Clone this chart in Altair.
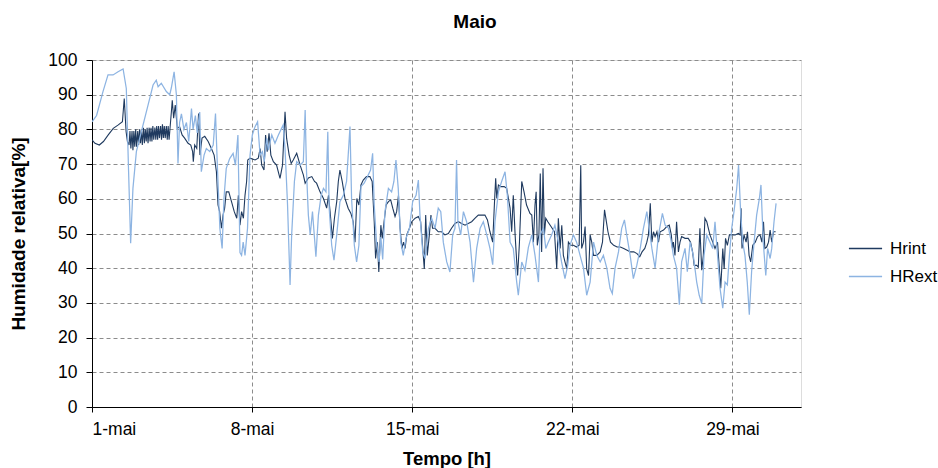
import altair as alt
import pandas as pd

# ---- data (days since 1-mai 00:00, relative humidity %) ----
hrint_dia = [0.00, 0.13, 0.32, 0.50, 0.71, 0.93, 1.15, 1.33, 1.41, 1.49, 1.55,
             1.62, 1.66, 1.70, 1.75, 1.79, 1.83, 1.87, 1.91, 1.95, 2.00, 2.04, 2.08, 2.12, 2.16,
             2.20, 2.25, 2.29, 2.33, 2.37, 2.41, 2.45, 2.50, 2.54, 2.58, 2.62, 2.66, 2.70, 2.75,
             2.79, 2.83, 2.87, 2.91, 2.95, 3.00, 3.04, 3.08, 3.12, 3.16, 3.20, 3.25, 3.29, 3.33, 3.37,
             3.40, 3.47, 3.51, 3.57, 3.64, 3.73, 3.83, 3.94, 4.05, 4.20, 4.32, 4.40, 4.43, 4.49,
             4.58, 4.66, 4.72, 4.81, 4.93, 5.08, 5.22, 5.34, 5.44, 5.51, 5.58, 5.66, 5.73, 5.80,
             5.87, 5.98, 6.10, 6.22, 6.33, 6.40, 6.47, 6.54, 6.62, 6.69, 6.76, 6.81, 6.91, 7.13,
             7.27, 7.35, 7.42, 7.52, 7.59, 7.66, 7.74, 7.82, 7.93, 8.07, 8.22, 8.33, 8.44, 8.51,
             8.62, 8.71, 8.80, 8.95, 9.10, 9.24, 9.32, 9.46, 9.61, 9.73, 9.82, 9.97, 10.12, 10.26,
             10.34, 10.41, 10.51, 10.60, 10.70, 10.77, 10.84, 10.94, 11.06, 11.20, 11.32, 11.42,
             11.50, 11.58, 11.67, 11.76, 11.86, 12.00, 12.15, 12.25, 12.34, 12.40, 12.48, 12.54,
             12.63, 12.69, 12.77, 12.86, 12.96, 13.06, 13.15, 13.25, 13.32, 13.40, 13.47, 13.55,
             13.62, 13.69, 13.76, 13.88, 13.98, 14.13, 14.27, 14.37, 14.44, 14.53, 14.59, 14.66,
             14.75, 14.82, 14.89, 15.00, 15.14, 15.29, 15.43, 15.58, 15.72, 15.87, 16.02, 16.16,
             16.31, 16.45, 16.60, 16.75, 16.89, 17.04, 17.18, 17.29, 17.40, 17.52, 17.60, 17.65,
             17.70, 17.77, 17.87, 18.02, 18.13, 18.28, 18.35, 18.42, 18.50, 18.57, 18.61, 18.69,
             18.79, 18.89, 19.00, 19.15, 19.23, 19.30, 19.37, 19.42, 19.47, 19.54, 19.60, 19.66,
             19.72, 19.78, 19.84, 19.93, 20.07, 20.22, 20.32, 20.39, 20.47, 20.54, 20.61, 20.68,
             20.76, 20.83, 20.93, 21.05, 21.19, 21.30, 21.37, 21.41, 21.49, 21.56, 21.63, 21.71,
             21.78, 21.85, 21.93, 22.07, 22.22, 22.32, 22.41, 22.49, 22.56, 22.67, 22.81, 22.96,
             23.10, 23.25, 23.40, 23.54, 23.69, 23.83, 23.95, 24.05, 24.17, 24.26, 24.33, 24.41,
             24.48, 24.55, 24.62, 24.70, 24.77, 24.84, 24.99, 25.13, 25.24, 25.33, 25.38, 25.42,
             25.49, 25.56, 25.64, 25.71, 25.78, 25.93, 26.07, 26.17, 26.26, 26.33, 26.44, 26.51,
             26.58, 26.66, 26.73, 26.80, 26.88, 26.95, 27.02, 27.14, 27.24, 27.35, 27.43, 27.49,
             27.58, 27.64, 27.70, 27.78, 27.87, 27.97, 28.12, 28.26, 28.34, 28.38, 28.42, 28.51,
             28.60, 28.66, 28.73, 28.80, 28.89, 29.00, 29.10, 29.21, 29.29, 29.36, 29.42, 29.50,
             29.58, 29.65, 29.72, 29.80, 29.89]
hrint_val = [77.0, 76.0, 75.5, 76.5, 78.4, 80.3, 81.3, 82.2, 88.9, 79.4, 76.5,
             75.5, 79.5, 74.5, 79.5, 74.0, 79.5, 75.0, 80.0, 75.0, 79.5, 75.5, 80.0, 76.0, 80.0,
             75.5, 80.5, 76.0, 80.0, 76.5, 80.5, 76.0, 80.5, 76.5, 80.5, 76.5, 81.0, 77.0, 80.5,
             77.0, 81.0, 77.0, 81.0, 77.5, 81.0, 77.0, 81.5, 77.5, 81.0, 77.5, 81.0, 77.0, 81.0, 77.0,
             79.4, 85.0, 88.4, 83.2, 87.0, 80.3, 80.8, 78.4, 77.5, 76.0, 75.5, 73.6, 70.7, 75.5,
             74.5, 84.6, 72.6, 77.5, 78.0, 76.5, 74.5, 72.6, 67.8, 58.2, 56.3, 51.5, 55.3, 57.3,
             62.0, 62.0, 59.2, 56.3, 54.4, 61.0, 52.4, 56.3, 54.4, 61.0, 65.0, 71.2, 71.7, 71.2,
             71.7, 74.5, 69.7, 68.3, 78.4, 73.6, 78.9, 72.6, 70.7, 69.7, 65.9, 69.7, 85.1, 77.4,
             72.6, 70.2, 71.2, 73.1, 69.7, 66.9, 64.5, 66.0, 66.4, 65.0, 64.5, 62.0, 60.1, 57.3,
             61.0, 56.3, 48.6, 54.4, 59.2, 65.0, 68.3, 65.0, 60.1, 57.3, 55.8, 53.4,
             47.5, 60.1, 58.2, 64.0, 65.4, 66.4, 66.4, 65.0, 53.4, 42.8, 47.5, 38.9,
             52.4, 48.6, 53.4, 58.2, 59.2, 59.7, 57.3, 54.9, 56.3, 61.0, 51.5, 45.7,
             47.5, 45.7, 49.6, 51.5, 53.4, 54.4, 54.9, 53.4, 47.5, 39.8, 55.3, 43.7,
             49.6, 55.3, 51.5, 51.5, 50.5, 50.5, 49.6, 50.0, 51.5, 52.9, 53.4, 52.9,
             52.4, 52.9, 53.4, 54.4, 55.3, 55.3, 55.3, 53.9, 50.5, 47.5, 59.2, 65.9,
             60.1, 64.0, 63.5, 63.5, 63.0, 57.3, 50.5, 61.0, 49.6, 41.8, 37.9, 47.5,
             65.0, 62.0, 58.2, 55.8, 55.3, 47.5, 58.2, 62.0, 46.6, 49.6, 67.3, 44.7,
             68.8, 49.6, 54.4, 53.4, 52.0, 50.5, 39.8, 54.4, 45.7, 52.4, 43.7, 41.8,
             39.8, 47.5, 46.6, 46.6, 46.1, 46.6, 69.7, 45.7, 47.5, 52.0, 39.8, 37.9,
             49.6, 47.5, 43.7, 43.7, 44.7, 47.5, 56.8, 53.4, 50.5, 47.5, 46.6, 46.1,
             46.1, 45.7, 45.2, 44.7, 44.7, 44.2, 43.3, 44.7, 45.7, 47.5, 49.6, 58.7,
             47.5, 50.5, 49.1, 50.5, 47.5, 50.5, 51.0, 52.0, 52.4, 49.6, 45.7, 47.5,
             43.7, 53.4, 44.7, 47.5, 49.1, 48.6, 48.6, 47.5, 44.7, 40.8, 40.8, 40.3,
             51.5, 39.4, 43.7, 54.4, 53.4, 51.5, 49.6, 47.5, 45.7, 47.5, 39.8, 34.2,
             45.7, 39.8, 48.6, 46.6, 49.6, 49.6, 49.6, 50.0, 49.6, 57.3, 45.7, 49.6,
             47.5, 50.5, 43.7, 41.8, 46.6, 47.5, 49.1, 49.6, 47.5, 53.4, 45.7, 46.1,
             47.5, 51.0, 47.5, 50.5, 50.5]

hrext_dia = [0.00, 0.20, 0.48, 0.70, 0.92, 1.14, 1.36, 1.50, 1.60, 1.69, 1.79, 1.94, 2.16,
             2.45, 2.67, 2.81, 2.89, 3.03, 3.25, 3.40, 3.47, 3.59, 3.69, 3.76, 3.83, 3.91,
             4.02, 4.13, 4.23, 4.35, 4.42, 4.52, 4.60, 4.71, 4.78, 4.90, 5.00, 5.15, 5.30,
             5.40, 5.48, 5.59, 5.69, 5.77, 5.87, 6.02, 6.17, 6.27, 6.38, 6.47, 6.54, 6.61,
             6.69, 6.80, 6.91, 7.01, 7.13, 7.24, 7.35, 7.45, 7.53, 7.64, 7.71, 7.86, 8.00,
             8.15, 8.36, 8.44, 8.55, 8.66, 8.73, 8.85, 8.95, 9.10, 9.24, 9.32, 9.38, 9.46,
             9.54, 9.64, 9.73, 9.79, 9.90, 10.02, 10.12, 10.23, 10.31, 10.37, 10.48, 10.58,
             10.70, 10.84, 10.99, 11.13, 11.28, 11.35, 11.47, 11.57, 11.67, 11.76, 11.90,
             12.08, 12.18, 12.27, 12.34, 12.44, 12.55, 12.63, 12.71, 12.81, 12.96, 13.10,
             13.20, 13.29, 13.39, 13.50, 13.61, 13.73, 13.88, 14.02, 14.17, 14.27, 14.34,
             14.46, 14.56, 14.71, 14.85, 15.00, 15.14, 15.25, 15.36, 15.51, 15.65, 15.77,
             15.87, 15.94, 16.00, 16.12, 16.24, 16.38, 16.53, 16.68, 16.82, 16.97, 17.11,
             17.26, 17.40, 17.52, 17.62, 17.77, 17.91, 18.06, 18.16, 18.28, 18.42, 18.57,
             18.64, 18.79, 18.93, 19.08, 19.23, 19.37, 19.52, 19.59, 19.74, 19.84, 19.95,
             20.10, 20.24, 20.39, 20.53, 20.68, 20.80, 20.90, 21.05, 21.19, 21.34, 21.49,
             21.63, 21.78, 21.93, 22.07, 22.22, 22.36, 22.51, 22.65, 22.75, 22.87, 23.02,
             23.16, 23.28, 23.38, 23.53, 23.67, 23.82, 23.97, 24.11, 24.26, 24.36, 24.48,
             24.62, 24.77, 24.94, 25.06, 25.21, 25.33, 25.42, 25.56, 25.68, 25.78, 25.93,
             26.03, 26.15, 26.29, 26.44, 26.55, 26.66, 26.76, 26.88, 27.02, 27.14, 27.24,
             27.35, 27.46, 27.58, 27.68, 27.78, 27.87, 27.97, 28.07, 28.19, 28.27, 28.36,
             28.45, 28.55, 28.65, 28.74, 28.84, 28.95, 29.06, 29.18, 29.25, 29.35, 29.46,
             29.54, 29.65, 29.72, 29.82, 29.91]
hrext_val = [82.2, 84.0, 90.9, 95.7, 95.7, 96.6, 97.4, 91.8, 67.8, 47.2, 63.0, 73.6, 79.4,
             87.0, 92.8, 94.2, 92.3, 93.3, 90.9, 90.0, 92.0, 96.6, 90.0, 70.2, 82.0, 84.5,
             80.0, 82.0, 76.5, 86.0, 80.0, 84.0, 79.0, 85.0, 67.8, 72.6, 74.5, 73.6, 75.5,
             84.6, 69.7, 51.5, 45.7, 60.1, 68.8, 71.6, 73.1, 69.7, 78.4, 44.5, 43.7, 47.5,
             43.7, 51.5, 72.6, 78.4, 80.8, 82.2, 72.6, 73.6, 70.7, 77.4, 74.0, 78.4, 76.0,
             78.4, 81.3, 74.5, 58.2, 35.2, 49.6, 65.0, 70.7, 69.7, 70.7, 85.6, 67.8, 55.3,
             49.6, 56.3, 48.6, 43.3, 55.3, 61.0, 63.0, 62.0, 79.3, 57.3, 46.6, 42.3,
             49.6, 59.2, 61.0, 65.0, 80.8, 60.0, 46.6, 41.8, 46.6, 63.5, 64.5,
             66.9, 68.3, 73.1, 58.2, 47.5, 41.8, 49.0, 42.5, 56.3, 63.0, 62.0,
             65.0, 71.2, 63.0, 47.5, 43.7, 48.6, 51.5, 59.2, 61.0, 65.4, 55.3,
             44.7, 42.8, 51.5, 54.4, 51.5, 57.3, 56.3, 47.5, 41.8, 38.9, 49.6,
             51.5, 71.2, 53.4, 49.6, 56.3, 53.4, 47.5, 36.0, 45.7, 51.5, 53.4,
             49.6, 45.7, 41.0, 53.4, 62.0, 65.0, 67.8, 61.0, 47.5, 45.7, 36.0,
             32.2, 41.8, 39.4, 46.0, 49.6, 43.7, 36.0, 49.6, 51.5, 45.7, 47.5,
             49.6, 52.4, 47.5, 41.8, 37.0, 40.8, 46.6, 49.6, 47.5, 43.7, 40.0,
             32.2, 36.0, 47.5, 43.7, 41.8, 43.7, 40.0, 34.2, 32.7, 40.0, 44.7,
             51.5, 53.9, 49.6, 43.7, 37.0, 40.8, 45.7, 51.5, 56.3, 51.5, 45.7,
             40.0, 49.6, 55.8, 52.4, 51.5, 47.5, 43.7, 40.0, 29.5, 41.8, 45.7,
             39.0, 47.5, 43.7, 36.0, 32.2, 29.8, 43.7, 49.6, 47.5, 45.7, 53.4,
             43.7, 34.2, 28.5, 36.0, 35.2, 43.7, 51.5, 56.3, 63.0, 69.7, 56.3,
             47.5, 43.7, 36.0, 26.6, 39.0, 47.5, 55.3, 60.1, 64.0, 47.5, 37.9,
             45.7, 42.8, 45.7, 53.4, 58.7]

series_names = ["Hrint", "HRext"]
series_colors = ["#1F3A5F", "#8DB4E2"]
x_ticks = [0, 7, 14, 21, 28]
x_labels = ["1-mai", "8-mai", "15-mai", "22-mai", "29-mai"]
y_ticks = [0, 10, 20, 30, 40, 50, 60, 70, 80, 90, 100]
chart_title = "Maio"

FONT = "Liberation Sans"

df_int = pd.DataFrame({"dia": hrint_dia, "hr": hrint_val, "serie": series_names[0],
                       "ordem": list(range(len(hrint_dia)))})
df_ext = pd.DataFrame({"dia": hrext_dia, "hr": hrext_val, "serie": series_names[1],
                       "ordem": list(range(len(hrext_dia)))})
df = pd.concat([df_int, df_ext], ignore_index=True)

label_expr = "[" + ",".join("'" + s + "'" for s in x_labels) + "][indexof([" + \
    ",".join(str(v) for v in x_ticks) + "], datum.value)]"

x_enc = alt.X(
    "dia:Q",
    scale=alt.Scale(domain=[0, 31], nice=False, zero=False),
    axis=alt.Axis(
        values=x_ticks, labelExpr=label_expr, grid=True, gridDash=[4, 3],
        gridColor="#8c8c8c", gridWidth=1, domainColor="#000000", tickColor="#000000",
        tickSize=5, labelFontSize=17.5, labelPadding=8, labelColor="#000000",
        labelFont=FONT, title="Tempo [h]", titleFont=FONT, titleFontSize=18.5,
        titleFontWeight="bold", titleColor="#000000", titleY=51, titleBaseline="middle",
    ),
)
y_enc = alt.Y(
    "hr:Q",
    scale=alt.Scale(domain=[0, 100], nice=False),
    axis=alt.Axis(
        values=y_ticks, grid=True, gridDash=[4, 3], gridColor="#8c8c8c", gridWidth=1,
        domainColor="#000000", tickColor="#000000", tickSize=6, labelFontSize=17.5,
        labelPadding=9, labelColor="#000000", labelFont=FONT,
        title="Humidade relativa[%]", titleFont=FONT, titleFontSize=19,
        titleFontWeight="bold", titleColor="#000000", titleX=-74, titleY=173.5,
        titleAlign="center", titleBaseline="middle",
    ),
)
color_enc = alt.Color(
    "serie:N",
    scale=alt.Scale(domain=series_names, range=series_colors),
    title=None,
    legend=alt.Legend(
        orient="none", legendX=756, legendY=171, symbolType="stroke",
        symbolSize=1100, symbolStrokeWidth=1.5, labelFontSize=17, labelFont=FONT,
        labelColor="#000000", labelOffset=7, rowPadding=2, padding=0,
    ),
)

base = alt.Chart(df).encode(x=x_enc, y=y_enc, color=color_enc, order="ordem:Q")

line_int = base.transform_filter(alt.datum.serie == series_names[0]).mark_line(
    strokeWidth=1.1, clip=True)
line_ext = base.transform_filter(alt.datum.serie == series_names[1]).mark_line(
    strokeWidth=1.25, clip=True)

title_mark = alt.Chart(pd.DataFrame({"t": [chart_title]})).mark_text(
    font=FONT, fontSize=19, fontWeight="bold", color="#000000",
    align="center", baseline="alphabetic",
).encode(text="t:N", x=alt.value(383), y=alt.value(-32))

chart = alt.layer(line_int, line_ext, title_mark).properties(
    width=709,
    height=347,
    autosize=alt.AutoSizeParams(type="none"),
    padding={"left": 92, "top": 60, "right": 137, "bottom": 61},
).configure_view(stroke="#000000", strokeWidth=1).configure(background="#ffffff")

chart.save("out.html", embed_options={"renderer": "svg", "actions": False})
